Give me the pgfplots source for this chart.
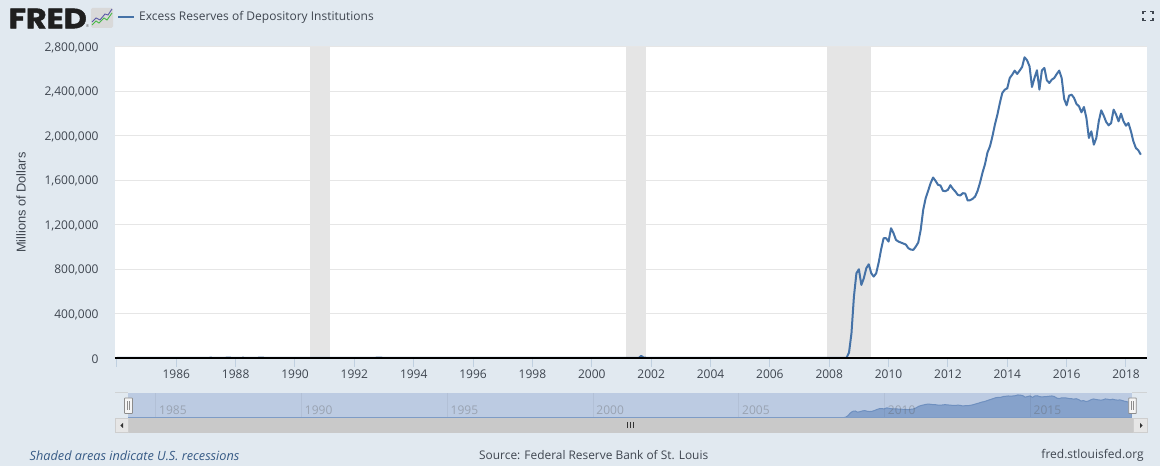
\documentclass[border=0pt]{standalone}
\usepackage{pgfplots}
\pgfplotsset{compat=1.18}
\usepackage{pgfplotstable}
\usepackage{graphicx}
\usepackage{fontspec}
\setmainfont{Open Sans}
\newfontfamily\logofont[BoldFeatures={FakeBold=1.6}]{Poppins}
\newfontfamily\arialfont{Liberation Sans}
\definecolor{bg}{HTML}{E1E9F0}
\definecolor{ser}{HTML}{4572A7}
\definecolor{txt}{HTML}{3F4650}
\definecolor{gridc}{HTML}{E6E6E6}
\definecolor{rec}{HTML}{E5E5E5}
\definecolor{tickc}{HTML}{C0D0E0}
\definecolor{navsel}{HTML}{BCCBE2}
\definecolor{navfill}{HTML}{86A2CB}
\definecolor{navline}{HTML}{6F90BF}
\definecolor{track}{HTML}{C9C9C9}
\pgfplotstableread{
date value
1984.000 700
1984.500 800
1985.000 900
1985.500 800
1986.000 1200
1986.500 1000
1987.000 1400
1987.167 2500
1987.333 900
1987.500 1000
1987.750 2800
1988.000 1200
1988.250 2400
1988.500 1000
1988.917 3000
1989.000 1000
1989.500 900
1990.000 1200
1990.500 900
1991.000 1500
1991.500 1000
1992.000 1200
1992.917 2500
1993.000 1100
1993.500 1000
1994.000 1300
1994.500 900
1995.000 1100
1995.500 1000
1996.000 1200
1996.500 1100
1997.000 1300
1997.500 1100
1998.000 1400
1998.500 1300
1999.000 1500
1999.500 1100
2000.000 1400
2000.500 1100
2001.000 1300
2001.583 1500
2001.667 19000
2001.750 2500
2002.000 1600
2002.500 1500
2003.000 1800
2003.500 1700
2004.000 1700
2004.500 1500
2005.000 1700
2005.500 1600
2006.000 1700
2006.500 1600
2007.000 1500
2007.500 1600
2008.000 1700
2008.583 1900
2008.667 48000
2008.750 222000
2008.833 552000
2008.917 762000
2009.000 798000
2009.083 657000
2009.167 717000
2009.250 807000
2009.333 843000
2009.417 762000
2009.500 732000
2009.583 762000
2009.667 858000
2009.750 978000
2009.833 1077000
2009.917 1077000
2010.000 1047000
2010.083 1167000
2010.167 1122000
2010.250 1062000
2010.333 1047000
2010.417 1038000
2010.500 1029000
2010.583 1020000
2010.667 987000
2010.750 975000
2010.833 972000
2010.917 1002000
2011.000 1038000
2011.083 1152000
2011.167 1332000
2011.250 1437000
2011.333 1503000
2011.417 1572000
2011.500 1623000
2011.583 1593000
2011.667 1557000
2011.750 1551000
2011.833 1503000
2011.917 1500000
2012.000 1512000
2012.083 1554000
2012.167 1521000
2012.250 1497000
2012.333 1467000
2012.417 1461000
2012.500 1482000
2012.583 1479000
2012.667 1416000
2012.750 1419000
2012.833 1431000
2012.917 1452000
2013.000 1503000
2013.083 1578000
2013.167 1668000
2013.250 1743000
2013.333 1848000
2013.417 1903000
2013.500 1993000
2013.583 2098000
2013.667 2188000
2013.750 2293000
2013.833 2383000
2013.917 2413000
2014.000 2425000
2014.083 2518000
2014.167 2548000
2014.250 2584000
2014.333 2554000
2014.417 2584000
2014.500 2617000
2014.583 2704000
2014.667 2677000
2014.750 2623000
2014.833 2437000
2014.917 2518000
2015.000 2587000
2015.083 2413000
2015.167 2587000
2015.250 2608000
2015.333 2497000
2015.417 2473000
2015.500 2503000
2015.583 2518000
2015.667 2554000
2015.750 2584000
2015.833 2518000
2015.917 2329000
2016.000 2272000
2016.083 2359000
2016.167 2368000
2016.250 2338000
2016.333 2284000
2016.417 2263000
2016.500 2209000
2016.583 2257000
2016.667 2158000
2016.750 1978000
2016.833 2038000
2016.917 1918000
2017.000 1978000
2017.083 2128000
2017.167 2227000
2017.250 2179000
2017.333 2122000
2017.417 2092000
2017.500 2113000
2017.583 2233000
2017.667 2188000
2017.750 2128000
2017.833 2197000
2017.917 2128000
2018.000 2089000
2018.083 2113000
2018.167 2038000
2018.250 1948000
2018.333 1888000
2018.417 1867000
2018.500 1828000
}\fredtable
\begin{document}
\begin{tikzpicture}[x=1pt,y=1pt]
\useasboundingbox (0,0) rectangle (1160,466);
\fill[bg] (0,0) rectangle (1160,466);

% main chart
\begin{axis}[
  at={(115pt,108pt)}, anchor=south west,
  scale only axis, width=1032pt, height=311.4pt,
  xmin=1983.935, xmax=2018.7075, ymin=0, ymax=2800000,
  axis background/.style={fill=white},
  axis line style={draw=none},
  xtick={1984,1986,...,2018},
  xticklabels={{},1986,1988,1990,1992,1994,1996,1998,2000,2002,2004,2006,2008,2010,2012,2014,2016,2018},
  ytick={0,400000,800000,1200000,1600000,2000000,2400000,2800000},
  yticklabels={0,{400,000},{800,000},{1,200,000},{1,600,000},{2,000,000},{2,400,000},{2,800,000}},
  scaled y ticks=false,
  ymajorgrids, grid style={gridc,line width=1pt},
  xtick pos=bottom, ytick pos=left,
  xtick align=outside,
  major tick length=0pt,
  x tick style={draw=none},
  y tick style={draw=none},
  tick label style={font=\fontsize{12}{14}\selectfont,text=txt},
  yticklabel style={anchor=east,xshift=-13pt,yshift=-1pt},
  xticklabel style={anchor=center,yshift=-16.5pt},
  clip=false,
]
\addplot[draw=none,fill=rec,forget plot] coordinates {(1990.5,0)(1990.5,2800000)(1991.167,2800000)(1991.167,0)} -- cycle;
\addplot[draw=none,fill=rec,forget plot] coordinates {(2001.167,0)(2001.167,2800000)(2001.833,2800000)(2001.833,0)} -- cycle;
\addplot[draw=none,fill=rec,forget plot] coordinates {(2007.917,0)(2007.917,2800000)(2009.417,2800000)(2009.417,0)} -- cycle;
\addplot[ycomb,draw=tickc,line width=1pt,forget plot] coordinates {(1984,-85000)(1986,-85000)(1988,-85000)(1990,-85000)(1992,-85000)(1994,-85000)(1996,-85000)(1998,-85000)(2000,-85000)(2002,-85000)(2004,-85000)(2006,-85000)(2008,-85000)(2010,-85000)(2012,-85000)(2014,-85000)(2016,-85000)(2018,-85000)};
\addplot[ser,line width=2pt,line join=round,forget plot] table[x=date,y=value] {\fredtable};
\addplot[black,line width=2pt,forget plot] coordinates {(1983.935,0)(2018.7075,0)};
\end{axis}

% navigator
\begin{axis}[
  at={(128pt,48.3pt)}, anchor=south west,
  scale only axis, width=1004pt, height=24.4pt,
  xmin=1984.055, xmax=2018.497, ymin=0, ymax=2900000,
  axis background/.style={fill=navsel},
  axis line style={draw=none},
  axis on top,
  xtick={1985,1990,1995,2000,2005,2010,2015},
  xticklabels={1985,1990,1995,2000,2005,2010,2015},
  ytick=\empty,
  xmajorgrids, grid style={black,opacity=0.05,line width=0.5pt},
  major tick length=0pt, x tick style={draw=none},
  xtick pos=bottom,
  tick label style={font=\fontsize{12}{14}\selectfont,text=black!65,text opacity=0.35},
  xticklabel style={anchor=center,xshift=17.4pt,yshift=7.7pt},
]
\addplot[draw=navline,line width=1pt,fill=navfill,forget plot] table[x=date,y=value] {\fredtable} \closedcycle;
\end{axis}

\begin{scope}[yshift=466pt,y=-1pt]
% navigator edges
\draw[line width=1pt,color=track!70!bg] (115,393) -- (128,393);
\draw[line width=1pt,color=track!70!bg] (1132,393) -- (1147,393);
\draw[line width=0.8pt,color=navline!80!navsel] (128,417.8) -- (1132,417.8);
% scrollbar
\fill[track] (128,418.3) rectangle (1133,432.7);
\fill[gridc,draw=track!90!white,line width=0.6pt] (115,418.3) rectangle (128,432.7);
\fill[gridc,draw=track!90!white,line width=0.6pt] (1133,418.3) rectangle (1147,432.7);
\fill[black!80] (120.3,425.5) -- (123,423) -- (123,428) -- cycle;
\fill[black!80] (1142.7,425.5) -- (1140,423) -- (1140,428) -- cycle;
\draw[black!80,line width=0.8pt] (627.5,422) -- (627.5,428) (630.5,422) -- (630.5,428) (633.5,422) -- (633.5,428);
% handles
\filldraw[fill=gridc!40!white,draw=black!45,line width=0.8pt,rounded corners=0.6pt] (124.5,398) rectangle (132.5,413.5);
\draw[black!45,line width=0.7pt] (127.5,401.5) -- (127.5,410) (129.8,401.5) -- (129.8,410);
\filldraw[fill=gridc!40!white,draw=black!45,line width=0.8pt,rounded corners=0.6pt] (1128.7,398) rectangle (1136.3,413.5);
\draw[black!45,line width=0.7pt] (1131.5,401.5) -- (1131.5,410) (1133.8,401.5) -- (1133.8,410);
% logo
\node[anchor=west,inner sep=0pt,text=black!88] at (8.5,18.5) {\scalebox{1.13}[1]{\logofont\fontsize{28}{28}\selectfont\bfseries FRED}};
\node[inner sep=0pt,text=black!60] at (87.5,26.5) {\fontsize{4}{4}\selectfont ®};
\fill[black!15,rounded corners=1.5pt] (91,8) rectangle (113,28);
\draw[green!45!gray,line width=0.9pt] (92,25) -- (96,21) -- (99,23) -- (104,18) -- (107,20) -- (112,13);
\draw[blue!30!gray,line width=0.9pt] (92,22) -- (96,18) -- (100,20) -- (105,14) -- (108,15) -- (112,9);
% legend
\draw[ser,line width=2pt] (118,17) -- (134,17);
\node[anchor=west,inner sep=0pt,text=txt] at (139,17.8) {\fontsize{12}{14}\selectfont Excess Reserves of Depository Institutions};
% fullscreen icon
\draw[txt,line width=1.2pt] (1143,14) -- (1143,11.6) -- (1146,11.6) (1150,11.6) -- (1153,11.6) -- (1153,14) (1143,18) -- (1143,20.4) -- (1146,20.4) (1150,20.4) -- (1153,20.4) -- (1153,18);
% axis title
\node[rotate=90,inner sep=0pt,text=txt] at (21,202.7) {\arialfont\fontsize{12.8}{14}\selectfont Millions of Dollars};
% footer
\node[anchor=west,inner sep=0pt,text=ser!80!black] at (29.5,455.5) {\fontsize{12.7}{14}\selectfont\itshape Shaded areas indicate U.S. recessions};
\node[anchor=west,inner sep=0pt,text=txt] at (479,455.5) {\fontsize{11.9}{14}\selectfont Source: Federal Reserve Bank of St. Louis};
\node[anchor=east,inner sep=0pt,text=txt] at (1144,455.5) {\fontsize{12}{14}\selectfont fred.stlouisfed.org};
\end{scope}
\end{tikzpicture}
\end{document}
